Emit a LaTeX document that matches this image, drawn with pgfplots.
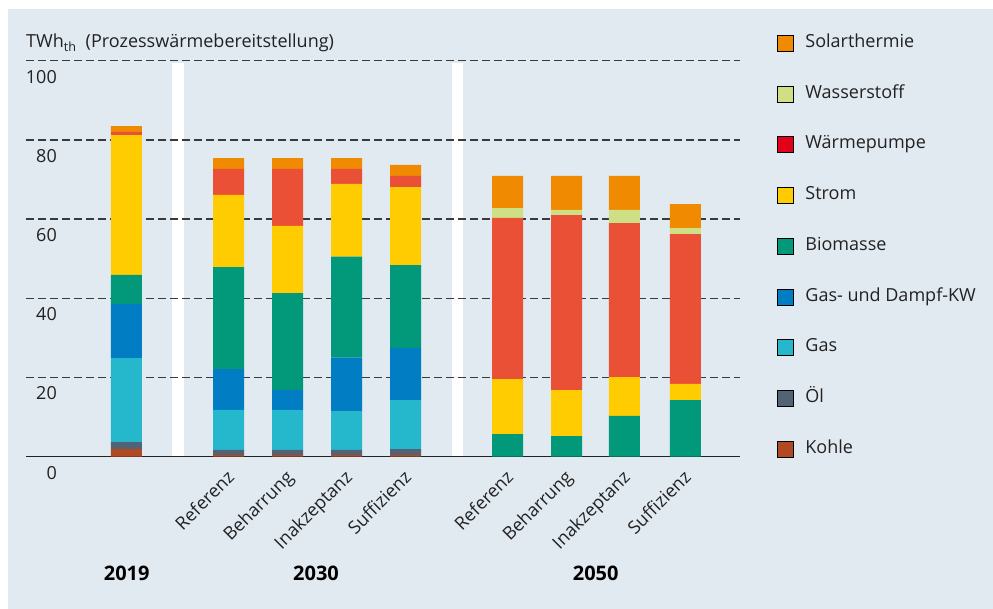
\documentclass[border=0pt]{standalone}
\usepackage{pgfplots}
\pgfplotsset{compat=1.18}
\usepackage{pgfplotstable}
\usepackage{fontspec}
\setmainfont{Open Sans}
\definecolor{bgc}{HTML}{E1E9F1}
\definecolor{solar}{HTML}{F08A00}
\definecolor{hzwei}{HTML}{CFDF86}
\definecolor{wpleg}{HTML}{E2001A}
\definecolor{wpbar}{HTML}{EA5035}
\definecolor{strom}{HTML}{FECC00}
\definecolor{bio}{HTML}{02987A}
\definecolor{gud}{HTML}{007DC3}
\definecolor{gas}{HTML}{25B8CC}
\definecolor{oel}{HTML}{536275}
\definecolor{kohle}{HTML}{B04A22}
\definecolor{txt}{HTML}{222222}
\definecolor{gridc}{HTML}{3A3A3A}

% x: 2019 | 2030 Referenz, Beharrung, Inakzeptanz, Suffizienz | 2050 Referenz, Beharrung, Inakzeptanz, Suffizienz
\pgfplotstableread{
x     kohle oel  gas  gud  bio  strom wp   h2  solar
0     1.9   1.8  21.2 13.7 7.3  35.3  0.8  0   1.5
1.73  0.4   1.3  10.1 10.3 25.8 18.2  6.6  0   2.7
2.73  0.4   1.3  10.1 5.1  24.4 17.0  14.4 0   2.7
3.73  0.4   1.3  9.8  13.5 25.5 18.4  3.8  0   2.7
4.73  0.4   1.5  12.4 13.2 20.9 19.7  2.8  0   2.8
6.46  0     0    0    0    5.7  13.9  40.7 2.5 8.1
7.46  0     0    0    0    5.2  11.6  44.2 1.3 8.6
8.44  0     0    0    0    10.3 9.8   38.9 3.3 8.6
9.47  0     0    0    0    14.3 4.1   37.8 1.5 6.1
}\datatable

\newcommand{\fs}{\fontsize{18}{21}\selectfont}

\begin{document}
\begin{tikzpicture}
\useasboundingbox (0pt,0pt) rectangle (993pt,609pt);
\fill[white] (0pt,0pt) rectangle (993pt,609pt);
\fill[bgc] (8pt,0pt) rectangle (993pt,600pt);
% white separators between the year groups
\fill[white] (172pt,152.3pt) rectangle (184pt,546.3pt);
\fill[white] (451.7pt,152.3pt) rectangle (463.3pt,546.3pt);
\begin{axis}[
  at={(26pt,152.3pt)}, anchor=south west,
  scale only axis, width=714pt, height=396pt,
  xmin=-1.703, xmax=10.398, ymin=0, ymax=100,
  clip=false,
  axis line style={draw=none},
  major tick length=0pt,
  /pgf/number format/assume math mode=true,
  ytick={0,20,40,60,80,100},
  ymajorgrids,
  grid style={draw=gridc, line width=1.3pt, dash pattern=on 7.5pt off 4.5pt},
  yticklabel style={anchor=east, inner sep=0pt, xshift=31pt, yshift=-16pt, font=\fs, text=txt},
  xtick={1.73,2.73,3.73,4.73,6.46,7.46,8.44,9.47},
  xticklabels={Referenz,Beharrung,Inakzeptanz,Suffizienz,Referenz,Beharrung,Inakzeptanz,Suffizienz},
  xticklabel style={font=\fs, text=txt, inner sep=0pt, xshift=-3pt, yshift=-12pt, rotate=45, anchor=north east},
  ybar stacked, bar width=31pt,
  legend image code/.code={\fill[#1] (0pt,-8pt) rectangle (16pt,8pt);},
  legend style={at={(axis description cs:1.0518,1.0662)}, anchor=north west,
    draw=none, fill=none, inner sep=0pt, outer sep=0pt,
    row sep=33.75pt, column sep=12pt, font=\fs, text=txt,
    nodes={inner sep=0pt, text height=13pt, text depth=4pt}},
  legend cell align=left,
]
\addplot[fill=kohle, draw=none, forget plot] table[x=x, y=kohle]{\datatable};
\addplot[fill=oel, draw=none, forget plot] table[x=x, y=oel]{\datatable};
\addplot[fill=gas, draw=none, forget plot] table[x=x, y=gas]{\datatable};
\addplot[fill=gud, draw=none, forget plot] table[x=x, y=gud]{\datatable};
\addplot[fill=bio, draw=none, forget plot] table[x=x, y=bio]{\datatable};
\addplot[fill=strom, draw=none, forget plot] table[x=x, y=strom]{\datatable};
\addplot[fill=wpbar, draw=none, forget plot] table[x=x, y=wp]{\datatable};
\addplot[fill=hzwei, draw=none, forget plot] table[x=x, y=h2]{\datatable};
\addplot[fill=solar, draw=none, forget plot] table[x=x, y=solar]{\datatable};
\addlegendimage{fill=solar}\addlegendentry{Solarthermie}
\addlegendimage{fill=hzwei}\addlegendentry{Wasserstoff}
\addlegendimage{fill=wpleg}\addlegendentry{Wärmepumpe}
\addlegendimage{fill=strom}\addlegendentry{Strom}
\addlegendimage{fill=bio}\addlegendentry{Biomasse}
\addlegendimage{fill=gud}\addlegendentry{Gas- und Dampf-KW}
\addlegendimage{fill=gas}\addlegendentry{Gas}
\addlegendimage{fill=oel}\addlegendentry{Öl}
\addlegendimage{fill=kohle}\addlegendentry{Kohle}
\draw[draw=txt, line width=1.2pt] (axis cs:-1.703,0) -- (axis cs:10.398,0);
\end{axis}
\node[anchor=base west, inner sep=0pt, font=\fs, text=txt] at (26pt,561.3pt) {TWh\textsubscript{th}\hspace{0.25em} (Prozesswärmebereitstellung)};
\node[font=\bfseries\fontsize{20}{22}\selectfont, text=black, inner sep=0pt] at (126.7pt,36pt) {2019};
\node[font=\bfseries\fontsize{20}{22}\selectfont, text=black, inner sep=0pt] at (316pt,36pt) {2030};
\node[font=\bfseries\fontsize{20}{22}\selectfont, text=black, inner sep=0pt] at (595.7pt,36pt) {2050};
\end{tikzpicture}
\end{document}
